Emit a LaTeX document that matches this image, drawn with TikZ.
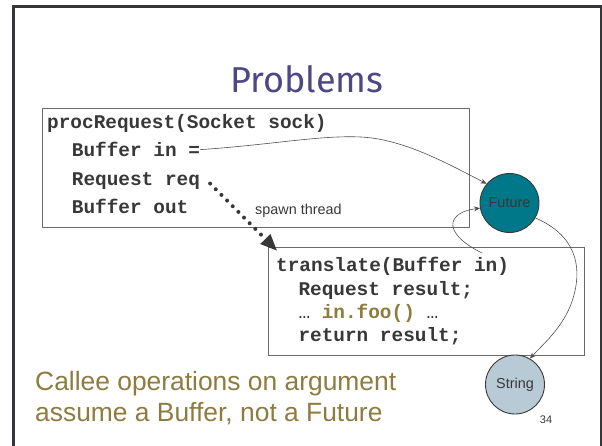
\documentclass[tikz,border=0pt]{standalone}
\usepackage{fontspec}
\setmainfont{Liberation Sans}
\setmonofont{Liberation Mono}
\newfontfamily\titlefont{Fira Sans}
\usetikzlibrary{arrows.meta}

\definecolor{framedark}{HTML}{35353A}
\definecolor{titlepurple}{HTML}{4D4784}
\definecolor{codegray}{HTML}{383838}
\definecolor{boxgray}{HTML}{6A6A6A}
\definecolor{linkgray}{HTML}{505050}
\definecolor{olive}{HTML}{8D7B3F}
\definecolor{futureteal}{HTML}{00788A}
\definecolor{stringblue}{HTML}{B8CAD5}

\tikzset{
  codebox/.style={draw=boxgray, line width=1.1pt, inner sep=0pt},
  codeline/.style={anchor=base west, inner sep=0pt, text=codegray,
    font=\ttfamily\bfseries\fontsize{19.4}{20}\selectfont},
  objnode/.style={circle, draw=codegray, line width=0.9pt, inner sep=0pt,
    minimum size=59pt, text=codegray, font=\fontsize{14.4}{16}\selectfont},
  link/.style={draw=linkgray, line width=0.6pt,
    -{Stealth[length=6pt, width=5pt]}},
  spawnline/.style={draw=codegray, line width=4pt, line cap=round,
    dash pattern=on 0pt off 8pt,
    -{Triangle[length=17pt, width=13pt]}},
  calleetext/.style={anchor=base west, inner sep=0pt, text=olive,
    font=\fontsize{26.4}{30}\selectfont},
}

\begin{document}
\begin{tikzpicture}[x=1pt, y=-1pt]
  \useasboundingbox (0,0) rectangle (602,445);
  \clip (0,0) rectangle (602,445);

  % slide frame
  \draw[framedark, line width=3pt] (13.5,6) rectangle (601,470);

  % title
  \node[anchor=base, inner sep=0pt, text=titlepurple,
        font=\titlefont\fontsize{36}{40}\selectfont] (title) at (307,92) {Problems};

  % caller box
  \node[codebox, anchor=north west, minimum width=427.5pt, minimum height=118.5pt]
    (caller) at (41.5,108) {};
  \node[codeline] (proc)   at (47,128.3)  {procRequest(Socket sock)};
  \node[codeline] (bufin)  at (71.7,156.7) {Buffer in =};
  \node[codeline] (req)    at (71.7,185)  {Request req};
  \node[codeline] (bufout) at (71.7,213.3) {Buffer out};

  \node[anchor=base west, inner sep=0pt, text=codegray,
        font=\fontsize{14.4}{16}\selectfont] (spawn) at (255,214) {spawn thread};

  % callee box
  \node[codebox, anchor=north west, minimum width=315.7pt, minimum height=108.5pt]
    (callee) at (268.3,246.5) {};
  \node[codeline] (trans)  at (276,271.7) {translate(Buffer in)};
  \node[codeline] (result) at (298.3,295) {Request result;};
  \node[codeline] (foo)    at (298.3,318.3)
    {{\mdseries …}\ \textcolor{olive}{in.foo()} {\mdseries …}};
  \node[codeline] (ret)    at (298.3,341.7) {return result;};

  % objects
  \node[objnode, fill=futureteal] (future) at (509.5,203) {Future};
  \node[objnode, fill=stringblue] (string) at (515,384.5) {String};

  \node[anchor=base, inner sep=0pt, text=codegray,
        font=\fontsize{11}{12}\selectfont] (pagenum) at (546,423) {34};

  % explanation
  \node[calleetext] (why1) at (35,390.5) {Callee operations on argument};
  \node[calleetext] (why2) at (35,421)   {assume a Buffer, not a Future};

  % references
  \draw[link] (bufin.east) .. controls (270,145) and (320,135) .. (361,137)
    .. controls (402,139) and (445,162) .. (future.140);
  \coordinate (transin) at ([xshift=-27pt, yshift=4pt]trans.north east);
  \draw[link] (transin) .. controls (440,232) and (448,212) .. (future.190);
  \draw[link] (future.-30) .. controls (575,235) and (582,265) .. (574,295)
    .. controls (566,325) and (545,342) .. (string.60);

  % spawned thread
  \draw[spawnline] ([shift={(10pt,-3pt)}]req.east) -- ([shift={(9pt,-4.5pt)}]callee.north west);
\end{tikzpicture}
\end{document}
